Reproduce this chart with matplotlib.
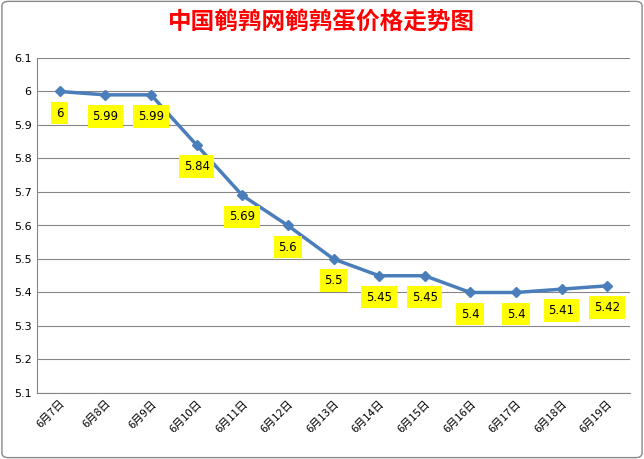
import matplotlib
matplotlib.use("Agg")
import matplotlib.pyplot as plt
from matplotlib.patches import FancyBboxPatch

plt.rcParams['font.family'] = ['Noto Sans CJK SC', 'DejaVu Sans']

dates = ["6月7日","6月8日","6月9日","6月10日","6月11日","6月12日","6月13日",
         "6月14日","6月15日","6月16日","6月17日","6月18日","6月19日"]
prices = [6, 5.99, 5.99, 5.84, 5.69, 5.6, 5.5, 5.45, 5.45, 5.4, 5.4, 5.41, 5.42]
labels = ["6","5.99","5.99","5.84","5.69","5.6","5.5","5.45","5.45","5.4","5.4","5.41","5.42"]
yticks = [5.1,5.2,5.3,5.4,5.5,5.6,5.7,5.8,5.9,6,6.1]

fig = plt.figure(figsize=(6.44,4.59), dpi=100)
fig.patches.append(FancyBboxPatch((0.003,0.003),0.994,0.994, boxstyle="round,pad=0,rounding_size=0.01",
                                  transform=fig.transFigure, fill=False, edgecolor="#888888", lw=1))
ax = fig.add_axes([37/644, 1-393/459, (630-37)/644, (393-58)/459])
x = range(len(dates))
ax.plot(x, prices, color="#4a7ebb", lw=2.5, marker="D", markersize=5, markerfacecolor="#4a7ebb")
for i,(p,l) in enumerate(zip(prices,labels)):
    ax.annotate(l, (i,p), xytext=(0,-15.5), textcoords="offset points", ha="center", va="center",
                fontsize=8.5, family=["DejaVu Sans"],
                bbox=dict(boxstyle="square,pad=0.4", fc="#ffff00", ec="none"))
ax.set_xlim(-0.5, len(dates)-0.5)
ax.set_ylim(5.1, 6.1)
ax.set_yticks(yticks)
ax.set_yticklabels([str(v) for v in yticks], fontsize=8, family=["DejaVu Sans"])
ax.set_xticks(list(x))
ax.set_xticklabels(dates, rotation=45, ha="right", rotation_mode="anchor", fontsize=8)
ax.grid(axis="y", color="#868686", lw=0.8)
for s in ["top","right"]:
    ax.spines[s].set_visible(False)
ax.spines["left"].set_color("#868686")
ax.spines["bottom"].set_color("#868686")
ax.tick_params(length=0, pad=4)
fig.text(0.5, 1-22/459, "中国鹌鹑网鹌鹑蛋价格走势图", ha="center", va="center",
         fontsize=17, color="#ff0000", fontweight="bold", family=["Noto Sans CJK SC"])
fig.savefig("out.png", dpi=100)
